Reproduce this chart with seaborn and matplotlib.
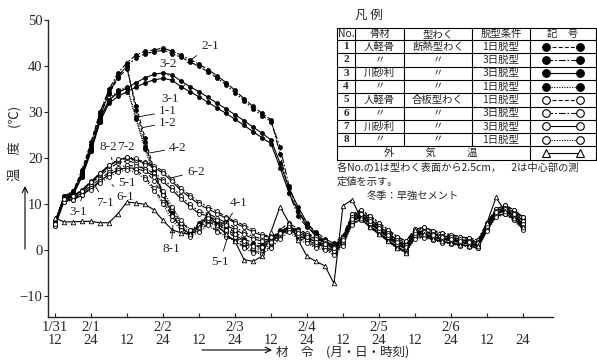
import numpy as np
import pandas as pd
import seaborn as sns
import matplotlib.pyplot as plt

# time axis: hours after 1/31 12:00, one reading every 3 h
hours = list(range(0, 157, 3))

# temperatures (deg C)
s1_1 = [6.0, 11.5, 12.5, 17.0, 23.0, 29.5, 34.0, 37.5, 39.5, 31.5, 24.5, 17.5, 12.5, 8.0, 5.0, 3.5,
        5.5, 7.0, 5.8, 4.5, 3.5, 2.0, 1.0, 1.0, 2.2, 4.0, 5.3, 4.0, 3.0, 2.0, 1.3, 0.5, 2.3, 6.8, 8.0, 6.5, 5.0,
        3.5, 2.0, 1.0, 3.8, 4.0, 3.4, 3.0, 2.6, 2.2, 1.8, 1.5, 5.3, 8.3, 9.0, 7.8, 6.0]
s1_2 = [6.2, 11.8, 12.8, 17.5, 23.5, 30.0, 34.5, 38.0, 40.0, 30.5, 23.5, 16.8, 12.0, 7.8, 4.8, 3.6,
        6.0, 7.5, 6.2, 5.0, 4.0, 2.5, 1.6, 1.4, 2.4, 4.5, 6.0, 4.6, 3.6, 2.6, 1.9, 1.1, 2.9, 7.5, 8.5, 7.2, 5.6,
        4.2, 2.6, 1.6, 4.3, 4.6, 4.0, 3.5, 3.1, 2.7, 2.3, 2.0, 5.8, 8.8, 9.5, 8.5, 6.8]
s2_1 = [6.0, 11.5, 12.5, 17.0, 23.0, 30.0, 35.0, 38.6, 40.8, 42.5, 43.3, 43.6, 44.0, 43.3, 42.5, 41.5,
        40.5, 39.3, 38.0, 36.5, 34.8, 33.0, 31.3, 29.8, 28.4, 21.0, 12.5, 7.5, 5.0, 3.5, 2.0, 1.0,
        2.6, 7.2, 8.2, 6.8, 5.2, 3.8, 2.2, 1.2, 4.0, 4.2, 3.6, 3.2, 2.8, 2.4, 2.0, 1.8, 5.6, 8.6, 9.3, 8.2, 6.4]
s2_2 = [6.2, 11.8, 12.8, 16.5, 22.5, 29.0, 34.2, 37.8, 40.2, 41.8, 42.8, 43.2, 43.5, 42.8, 42.0, 41.0,
        40.0, 38.8, 37.5, 36.0, 34.3, 32.5, 30.8, 29.3, 28.0, 22.5, 14.0, 8.5, 5.8, 4.0, 2.5, 1.5,
        3.2, 7.8, 8.8, 7.5, 6.0, 4.5, 3.0, 2.0, 4.6, 5.0, 4.3, 3.8, 3.4, 3.0, 2.6, 2.3, 6.0, 9.0, 9.8, 8.8, 7.2]
s3_1 = [5.8, 11.2, 12.0, 16.0, 21.5, 28.0, 32.0, 33.5, 34.5, 35.5, 36.4, 37.1, 37.4, 37.0, 35.6, 34.5,
        33.4, 32.2, 31.0, 29.8, 28.5, 27.2, 25.8, 24.5, 23.2, 18.0, 12.5, 8.5, 5.3, 3.0, 1.5, 0.5,
        1.4, 5.8, 6.8, 5.3, 3.8, 2.3, 0.8, -0.2, 2.8, 3.0, 2.4, 1.9, 1.6, 1.2, 0.9, 0.6, 4.4, 7.4, 8.0, 6.8, 4.7]
s3_2 = [6.0, 11.5, 12.3, 16.5, 22.0, 28.5, 32.7, 34.3, 35.3, 36.5, 37.5, 38.3, 38.6, 38.2, 36.8, 35.6,
        34.5, 33.3, 32.0, 30.8, 29.5, 28.2, 26.8, 25.5, 24.0, 19.0, 13.5, 9.5, 6.0, 3.5, 2.0, 1.0,
        2.0, 6.5, 7.5, 6.0, 4.5, 3.0, 1.5, 0.5, 3.5, 3.5, 3.0, 2.5, 2.2, 1.8, 1.5, 1.2, 5.0, 8.0, 8.7, 7.5, 5.5]
s4_1 = [5.5, 11.0, 12.0, 16.0, 21.5, 28.0, 32.5, 34.5, 35.3, 28.5, 22.0, 16.5, 12.0, 7.5, 4.8, 3.3,
        4.8, 6.2, 6.5, 4.2, 3.0, 1.2, 0.0, 0.2, 1.2, 3.2, 4.8, 3.2, 2.0, 1.0, 0.6, -0.3, 1.6, 6.2, 7.2, 5.8, 4.2,
        2.7, 1.2, 0.2, 3.2, 3.3, 2.8, 2.2, 1.9, 1.5, 1.2, 0.9, 4.7, 7.7, 8.4, 7.2, 5.0]
s4_2 = [5.8, 11.3, 12.2, 16.3, 21.8, 28.3, 32.8, 34.8, 35.6, 29.0, 22.5, 17.0, 12.5, 8.5, 5.5, 3.8,
        5.3, 6.8, 5.3, 6.3, 3.3, 1.8, 0.8, 0.8, 1.8, 3.8, 5.3, 3.8, 2.8, 1.8, 1.3, 0.3, 2.3, 6.8, 7.8, 6.3, 4.8,
        3.3, 1.8, 0.8, 3.8, 3.8, 3.3, 2.8, 2.5, 2.1, 1.8, 1.5, 5.3, 8.3, 9.0, 7.8, 5.8]
s5_1 = [5.5, 10.8, 11.3, 12.2, 13.5, 15.0, 16.5, 17.5, 18.0, 17.5, 16.0, 13.5, 10.5, 7.5, 5.0, 3.5,
        4.3, 5.8, 4.2, 3.2, 2.2, 0.8, -0.3, -0.4, 0.8, 2.8, 4.4, 2.8, 1.8, 0.8, 0.3, -0.6, 1.4, 5.8, 6.8, 5.3, 3.8,
        2.3, 0.8, -0.2, 2.8, 3.0, 2.4, 1.9, 1.6, 1.2, 0.9, 0.6, 4.4, 7.4, 8.0, 6.8, 4.7]
s5_2 = [5.8, 11.0, 11.6, 12.8, 14.5, 16.2, 17.8, 19.0, 19.5, 19.0, 17.5, 15.0, 12.0, 9.0, 6.0, 4.5,
        5.0, 6.5, 5.0, 4.0, 3.0, 1.5, 0.5, 0.5, 1.5, 3.5, 5.0, 3.5, 2.5, 1.5, 1.0, 0.0, 2.0, 6.5, 7.5, 6.0, 4.5,
        3.0, 1.5, 0.5, 3.5, 3.5, 3.0, 2.5, 2.2, 1.8, 1.5, 1.2, 5.0, 8.0, 8.7, 7.5, 5.5]
s6_1 = [5.5, 10.8, 11.3, 12.5, 14.0, 15.5, 17.0, 18.0, 18.5, 18.3, 17.8, 16.8, 15.5, 13.8, 11.8, 10.0,
        8.5, 8.0, 7.0, 6.0, 5.0, 4.0, 3.0, 2.5, 2.2, 3.5, 5.0, 3.8, 2.8, 1.8, 1.2, 0.3,
        2.2, 6.7, 7.7, 6.2, 4.7, 3.2, 1.7, 0.7, 3.6, 3.7, 3.2, 2.7, 2.4, 2.0, 1.7, 1.4, 5.2, 8.2, 8.9, 7.7, 5.7]
s6_2 = [5.8, 11.2, 11.8, 13.2, 15.0, 16.8, 18.5, 19.5, 20.0, 19.8, 19.3, 18.3, 17.3, 15.5, 13.5, 12.0,
        10.5, 9.5, 8.5, 7.3, 6.3, 5.5, 4.5, 3.5, 3.0, 3.8, 5.3, 4.5, 3.8, 2.8, 2.0, 1.0,
        2.8, 7.8, 8.8, 7.5, 6.0, 4.5, 3.0, 2.0, 4.6, 5.0, 4.3, 3.8, 3.4, 3.0, 2.6, 2.3, 6.0, 9.0, 9.8, 8.8, 7.2]
s7_1 = [5.3, 10.6, 11.0, 12.0, 13.5, 15.0, 16.5, 17.5, 18.0, 17.8, 17.2, 16.2, 15.0, 13.2, 11.2, 9.5,
        8.0, 7.5, 6.5, 5.5, 4.5, 3.5, 2.5, 2.0, 2.0, 3.2, 4.7, 3.3, 2.3, 1.3, 0.8, -0.2,
        1.8, 6.3, 7.3, 5.8, 4.3, 2.8, 1.3, 0.3, 3.3, 3.4, 2.9, 2.4, 2.1, 1.7, 1.4, 1.1, 4.9, 7.9, 8.6, 7.4, 5.3]
s7_2 = [5.7, 11.0, 11.7, 13.0, 14.8, 16.5, 18.3, 19.6, 20.2, 19.6, 19.0, 18.0, 16.8, 15.0, 13.0, 11.5,
        10.0, 9.0, 8.0, 7.0, 6.0, 5.0, 4.0, 3.2, 2.8, 3.6, 5.2, 4.2, 3.3, 2.4, 1.7, 0.8,
        2.6, 7.2, 8.2, 6.8, 5.2, 3.8, 2.2, 1.2, 4.0, 4.2, 3.6, 3.2, 2.8, 2.4, 2.0, 1.8, 5.6, 8.6, 9.3, 8.2, 6.4]
s8_1 = [5.3, 10.5, 11.0, 12.0, 13.2, 14.6, 16.0, 17.0, 17.5, 17.0, 15.5, 13.0, 10.0, 6.5, 4.5, 3.0,
        4.0, 5.5, 4.0, 3.0, 2.0, 0.5, -0.5, -0.8, 0.5, 2.5, 4.0, 2.5, 1.5, 0.5, 0.0, -1.0, 1.0, 5.5, 6.5, 5.0, 3.5,
        2.0, 0.5, -0.5, 2.5, 2.7, 2.2, 1.7, 1.4, 1.0, 0.7, 0.4, 4.2, 7.2, 7.8, 6.5, 4.4]
s8_2 = [5.8, 11.2, 11.8, 13.0, 14.8, 16.8, 18.5, 19.8, 20.2, 20.0, 18.5, 16.0, 13.0, 9.5, 6.5, 4.5,
        5.5, 7.0, 5.5, 4.5, 3.5, 2.0, 1.0, 0.8, 1.8, 3.8, 5.3, 3.8, 2.8, 1.8, 1.3, 0.4, 2.3, 6.8, 7.8, 6.4, 4.8,
        3.4, 1.8, 0.8, 3.8, 3.9, 3.3, 2.8, 2.5, 2.1, 1.8, 1.5, 5.3, 8.3, 9.0, 7.8, 5.8]
air = [7.0, 6.2, 6.2, 6.3, 6.3, 6.0, 6.0, 8.0, 10.5, 10.3, 10.0, 8.8, 6.5, 4.5, 3.8, 3.5,
       5.0, 8.0, 5.5, 3.5, 2.0, -2.0, -2.4, -1.3, 4.0, 9.5, 6.0, 2.3, -1.3, -2.4, -3.4, -7.2,
       9.7, 11.0, 7.0, 5.0, 3.5, 2.0, 0.5, -0.5, 4.5, 3.5, 2.5, 2.0, 1.5, 1.2, 1.0, 1.0, 6.0, 11.5, 8.5, 7.0, 5.0]

series = {'1-1': s1_1, '1-2': s1_2, '2-1': s2_1, '2-2': s2_2, '3-1': s3_1, '3-2': s3_2,
          '4-1': s4_1, '4-2': s4_2, '5-1': s5_1, '5-2': s5_2, '6-1': s6_1, '6-2': s6_2,
          '7-1': s7_1, '7-2': s7_2, '8-1': s8_1, '8-2': s8_2}

tick_hours = list(range(0, 157, 12))
tick_dates = ['1/31', '2/1', '', '2/2', '', '2/3', '', '2/4', '', '2/5', '', '2/6', '', '']
tick_times = ['12', '24'] * 7

# legend table contents
nums = ['1', '2', '3', '4', '5', '6', '7', '8']
aggs = ['人軽骨', '〃', '川砂利', '〃', '人軽骨', '〃', '川砂利', '〃']
forms = ['断熱型わく', '〃', '〃', '〃', '合板型わく', '〃', '〃', '〃']
conds = ['1日脱型', '3日脱型', '3日脱型', '1日脱型', '1日脱型', '3日脱型', '3日脱型', '1日脱型']

# line style per specimen No.: (dash pattern, filled marker)
dash = (0, (3.5, 2))
dashdot = (0, (6, 1.8, 1.5, 1.8))
dot = (0, (1, 1.3))
styles = {'1': (dash, True), '2': (dashdot, True), '3': ('-', True), '4': (dot, True),
          '5': (dash, False), '6': (dashdot, False), '7': ('-', False), '8': (dot, False)}

# curve labels: name -> (label pos, pointed point) in (hour, deg C)
labels = [('2-1', (51.7, 44.5), (44.0, 40.8)), ('3-2', (37.7, 40.6), (37.7, 38.0)),
          ('3-1', (38.3, 33.0), (43.3, 36.0)), ('1-1', (37.7, 30.2), (28.3, 29.1)),
          ('1-2', (37.7, 27.8), (29.3, 26.7)), ('8-2', (17.7, 22.5), (19.0, 19.7)),
          ('7-2', (23.5, 22.5), (26.0, 19.5)), ('4-2', (41.0, 22.3), (31.7, 21.2)),
          ('6-2', (47.0, 17.1), (39.0, 15.8)), ('5-1', (24.0, 14.7), (20.0, 17.1)),
          ('6-1', (23.3, 11.7), (19.0, 14.3)), ('7-1', (16.7, 10.4), (13.3, 14.1)),
          ('3-1', (7.7, 8.4), (9.0, 11.7)), ('8-1', (38.7, 0.2), (39.3, 5.4)),
          ('4-1', (61.3, 10.4), (57.0, 5.8)), ('5-1', (55.0, -2.5), (57.7, 3.2))]

sns.set_style('ticks')
plt.rcParams['font.family'] = ['Noto Sans CJK JP', 'DejaVu Sans']
serif = ['Liberation Serif', 'DejaVu Serif']

W, H = 597, 363
fig = plt.figure(figsize=(W / 100, H / 100), dpi=100)
ax = fig.add_axes([48 / W, 1 - 317 / H, (553 - 48) / W, (317 - 20) / H])

for name, vals in series.items():
    ls, filled = styles[name[0]]
    sns.lineplot(x=hours, y=vals, ax=ax, color='black', linestyle=ls, linewidth=0.8,
                 marker='o', markersize=2.8, markerfacecolor='black' if filled else 'white',
                 markeredgecolor='black', markeredgewidth=0.6)
sns.lineplot(x=hours, y=air, ax=ax, color='black', linestyle='-', linewidth=0.8,
             marker='^', markersize=3.3, markerfacecolor='white',
             markeredgecolor='black', markeredgewidth=0.6)

for text, pos, pt in labels:
    ax.annotate(text, xy=pt, xytext=pos, ha='center', va='center', fontsize=9.5, family=serif,
                arrowprops=dict(arrowstyle='-', lw=0.6, color='black', shrinkA=1, shrinkB=0))

ax.set_xlim(-2.33, 166)
ax.set_ylim(-14.5, 50.1)
ax.set_yticks([-10, 0, 10, 20, 30, 40, 50])
ax.set_yticklabels(['\u221210', '0', '10', '20', '30', '40', '50'], family=serif, fontsize=10.5)
ax.set_xticks(tick_hours)
ax.set_xticklabels([f'{d}\n{t}' for d, t in zip(tick_dates, tick_times)],
                   family=serif, fontsize=10.5, linespacing=1.0)
ax.tick_params(axis='x', direction='in', length=3, width=0.8, pad=3)
ax.tick_params(axis='y', direction='out', length=3, width=0.8, pad=1)
ax.set_xlabel('')
ax.set_ylabel('')
sns.despine(ax=ax)
for sp in ['left', 'bottom']:
    ax.spines[sp].set_linewidth(1.0)

# overlay in pixel coordinates for the legend table and axis titles
ov = fig.add_axes([0, 0, 1, 1], zorder=5)
ov.set_xlim(0, W)
ov.set_ylim(H, 0)
ov.axis('off')
ov.patch.set_alpha(0)

ov.text(369, 15, '凡 例', ha='center', va='center', fontsize=9)
cols = [337, 355, 404, 472, 530, 596]
rows = [28, 40] + [40 + 13.3 * k for k in range(1, 10)]
for y in rows:
    ov.plot([cols[0], cols[-1]], [y, y], color='black', lw=0.8)
for x in cols:
    y_end = rows[-1] if x in (337, 530, 596) else rows[-2]
    ov.plot([x, x], [rows[0], y_end], color='black', lw=0.8)

hdr_y = (rows[0] + rows[1]) / 2
for x, t in zip([346, 379.5, 438, 501, 563], ['No.', '骨材', '型わく', '脱型条件', '記　号']):
    ov.text(x, hdr_y, t, ha='center', va='center', fontsize=7.5)
for i in range(8):
    yc = (rows[i + 1] + rows[i + 2]) / 2
    ov.text(346, yc, nums[i], ha='center', va='center', fontsize=8, family=serif, weight='bold')
    ov.text(379.5, yc, aggs[i], ha='center', va='center', fontsize=7.5)
    ov.text(438, yc, forms[i], ha='center', va='center', fontsize=7.5)
    ov.text(501, yc, conds[i], ha='center', va='center', fontsize=7.5)
    ls, filled = styles[nums[i]]
    ov.plot([546, 580], [yc, yc], color='black', lw=0.8, linestyle=ls,
            marker='o', markersize=5.5, markerfacecolor='black' if filled else 'white',
            markeredgecolor='black', markeredgewidth=0.8)
yc = (rows[-2] + rows[-1]) / 2
ov.text(431, yc, '外　　　気　　　温', ha='center', va='center', fontsize=7.5)
ov.plot([546, 580], [yc, yc], color='black', lw=0.8, marker='^', markersize=5.5,
        markerfacecolor='white', markeredgecolor='black', markeredgewidth=0.8)

ov.text(337, 168, '各No.の1は型わく表面から2.5cm，　2は中心部の測', ha='left', va='center', fontsize=7.4)
ov.text(337, 182, '定値を示す。', ha='left', va='center', fontsize=7.4)
ov.text(367, 196, '冬季：早強セメント', ha='left', va='center', fontsize=7.4)

# axis titles with arrows
ov.text(15, 143, '温　度　(℃)', rotation=90, ha='center', va='center', fontsize=9.5)
ov.annotate('', xy=(25, 186), xytext=(25, 249),
            arrowprops=dict(arrowstyle='->', lw=0.8, color='black', shrinkA=0, shrinkB=0))
ov.annotate('', xy=(272, 350), xytext=(202, 350),
            arrowprops=dict(arrowstyle='->', lw=0.8, color='black', shrinkA=0, shrinkB=0))
ov.text(276, 352, '材　令　(月・日・時刻)', ha='left', va='center', fontsize=9)

fig.savefig('out.png', dpi=100)
